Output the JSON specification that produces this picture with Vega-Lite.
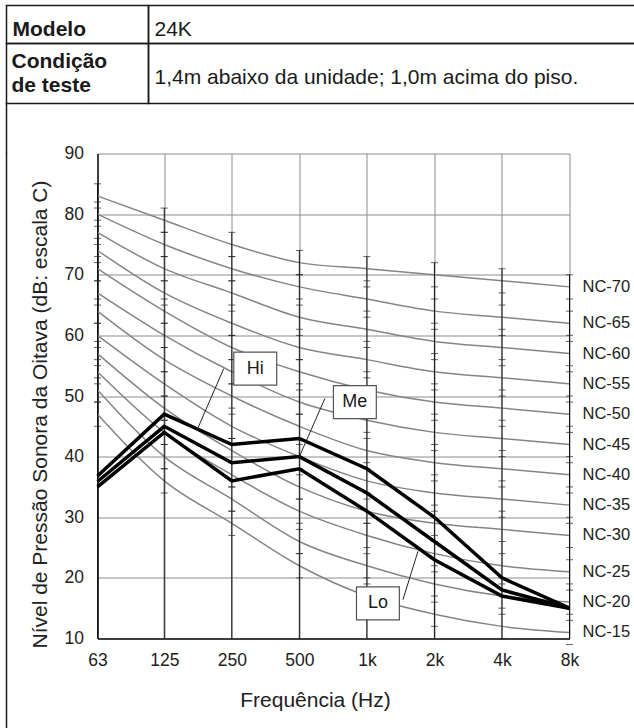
{
  "$schema": "https://vega.github.io/schema/vega-lite/v6.json",
  "background": "white",
  "padding": {"left": 5.5, "top": 4.5, "right": 0, "bottom": 0},
  "config": {"font": "Liberation Sans", "view": {"stroke": null}},
  "datasets": {
    "nc": [
      {"nc":"NC-15","f":63,"db":47},{"nc":"NC-15","f":125,"db":36},{"nc":"NC-15","f":250,"db":29},{"nc":"NC-15","f":500,"db":22},{"nc":"NC-15","f":1000,"db":17},{"nc":"NC-15","f":2000,"db":14},{"nc":"NC-15","f":4000,"db":12},{"nc":"NC-15","f":8000,"db":11},
      {"nc":"NC-20","f":63,"db":51},{"nc":"NC-20","f":125,"db":40},{"nc":"NC-20","f":250,"db":33},{"nc":"NC-20","f":500,"db":26},{"nc":"NC-20","f":1000,"db":22},{"nc":"NC-20","f":2000,"db":19},{"nc":"NC-20","f":4000,"db":17},{"nc":"NC-20","f":8000,"db":16},
      {"nc":"NC-25","f":63,"db":54},{"nc":"NC-25","f":125,"db":44},{"nc":"NC-25","f":250,"db":37},{"nc":"NC-25","f":500,"db":31},{"nc":"NC-25","f":1000,"db":27},{"nc":"NC-25","f":2000,"db":24},{"nc":"NC-25","f":4000,"db":22},{"nc":"NC-25","f":8000,"db":21},
      {"nc":"NC-30","f":63,"db":57},{"nc":"NC-30","f":125,"db":48},{"nc":"NC-30","f":250,"db":41},{"nc":"NC-30","f":500,"db":35},{"nc":"NC-30","f":1000,"db":31},{"nc":"NC-30","f":2000,"db":29},{"nc":"NC-30","f":4000,"db":28},{"nc":"NC-30","f":8000,"db":27},
      {"nc":"NC-35","f":63,"db":60},{"nc":"NC-35","f":125,"db":52},{"nc":"NC-35","f":250,"db":45},{"nc":"NC-35","f":500,"db":40},{"nc":"NC-35","f":1000,"db":36},{"nc":"NC-35","f":2000,"db":34},{"nc":"NC-35","f":4000,"db":33},{"nc":"NC-35","f":8000,"db":32},
      {"nc":"NC-40","f":63,"db":64},{"nc":"NC-40","f":125,"db":56},{"nc":"NC-40","f":250,"db":50},{"nc":"NC-40","f":500,"db":45},{"nc":"NC-40","f":1000,"db":41},{"nc":"NC-40","f":2000,"db":39},{"nc":"NC-40","f":4000,"db":38},{"nc":"NC-40","f":8000,"db":37},
      {"nc":"NC-45","f":63,"db":67},{"nc":"NC-45","f":125,"db":60},{"nc":"NC-45","f":250,"db":54},{"nc":"NC-45","f":500,"db":49},{"nc":"NC-45","f":1000,"db":46},{"nc":"NC-45","f":2000,"db":44},{"nc":"NC-45","f":4000,"db":43},{"nc":"NC-45","f":8000,"db":42},
      {"nc":"NC-50","f":63,"db":71},{"nc":"NC-50","f":125,"db":64},{"nc":"NC-50","f":250,"db":58},{"nc":"NC-50","f":500,"db":54},{"nc":"NC-50","f":1000,"db":51},{"nc":"NC-50","f":2000,"db":49},{"nc":"NC-50","f":4000,"db":48},{"nc":"NC-50","f":8000,"db":47},
      {"nc":"NC-55","f":63,"db":74},{"nc":"NC-55","f":125,"db":67},{"nc":"NC-55","f":250,"db":62},{"nc":"NC-55","f":500,"db":58},{"nc":"NC-55","f":1000,"db":56},{"nc":"NC-55","f":2000,"db":54},{"nc":"NC-55","f":4000,"db":53},{"nc":"NC-55","f":8000,"db":52},
      {"nc":"NC-60","f":63,"db":77},{"nc":"NC-60","f":125,"db":71},{"nc":"NC-60","f":250,"db":67},{"nc":"NC-60","f":500,"db":63},{"nc":"NC-60","f":1000,"db":61},{"nc":"NC-60","f":2000,"db":59},{"nc":"NC-60","f":4000,"db":58},{"nc":"NC-60","f":8000,"db":57},
      {"nc":"NC-65","f":63,"db":80},{"nc":"NC-65","f":125,"db":75},{"nc":"NC-65","f":250,"db":71},{"nc":"NC-65","f":500,"db":68},{"nc":"NC-65","f":1000,"db":66},{"nc":"NC-65","f":2000,"db":64},{"nc":"NC-65","f":4000,"db":63},{"nc":"NC-65","f":8000,"db":62},
      {"nc":"NC-70","f":63,"db":83},{"nc":"NC-70","f":125,"db":79},{"nc":"NC-70","f":250,"db":75},{"nc":"NC-70","f":500,"db":72},{"nc":"NC-70","f":1000,"db":71},{"nc":"NC-70","f":2000,"db":70},{"nc":"NC-70","f":4000,"db":69},{"nc":"NC-70","f":8000,"db":68}
    ],
    "meas": [
      {"mode":"Hi","f":63,"db":36.8},{"mode":"Hi","f":125,"db":47},{"mode":"Hi","f":250,"db":42},{"mode":"Hi","f":500,"db":43},{"mode":"Hi","f":1000,"db":38},{"mode":"Hi","f":2000,"db":30},{"mode":"Hi","f":4000,"db":20},{"mode":"Hi","f":8000,"db":15},
      {"mode":"Me","f":63,"db":35.9},{"mode":"Me","f":125,"db":45},{"mode":"Me","f":250,"db":39},{"mode":"Me","f":500,"db":40},{"mode":"Me","f":1000,"db":34},{"mode":"Me","f":2000,"db":26},{"mode":"Me","f":4000,"db":18},{"mode":"Me","f":8000,"db":15},
      {"mode":"Lo","f":63,"db":35},{"mode":"Lo","f":125,"db":44},{"mode":"Lo","f":250,"db":36},{"mode":"Lo","f":500,"db":38},{"mode":"Lo","f":1000,"db":31},{"mode":"Lo","f":2000,"db":23},{"mode":"Lo","f":4000,"db":17},{"mode":"Lo","f":8000,"db":15}
    ],
    "callouts": [
      {"label":"Hi","f":318,"db":54.5},
      {"label":"Me","f":884,"db":49},
      {"label":"Lo","f":1120,"db":15.8}
    ],
    "leaders": [
      {"label":"Hi","f1":230,"db1":54.5,"f2":176,"db2":44.6},
      {"label":"Me","f1":650,"db1":49.6,"f2":500,"db2":40},
      {"label":"Lo","f1":1448,"db1":16.4,"f2":1690,"db2":24.4}
    ]
  },
  "concat": [
    {
      "concat": [
        {
          "width": 142, "height": 38,
          "view": {"stroke": "#1a1a1a", "strokeWidth": 1.5},
          "data": {"values": [{"t": "Modelo"}]},
          "mark": {"type": "text", "align": "left", "baseline": "middle", "fontSize": 21, "fontWeight": "bold", "color": "#1a1a1a", "dx": 6, "dy": 5},
          "encoding": {"x": {"datum": 0, "scale": {"domain": [0, 1]}, "axis": null}, "text": {"field": "t"}}
        },
        {
          "width": 490, "height": 38,
          "view": {"stroke": "#1a1a1a", "strokeWidth": 1.5},
          "data": {"values": [{"t": "24K"}]},
          "mark": {"type": "text", "align": "left", "baseline": "middle", "fontSize": 21, "color": "#1a1a1a", "dx": 6, "dy": 5},
          "encoding": {"x": {"datum": 0, "scale": {"domain": [0, 1]}, "axis": null}, "text": {"field": "t"}}
        },
        {
          "width": 142, "height": 60,
          "view": {"stroke": "#1a1a1a", "strokeWidth": 1.5},
          "data": {"values": [{"t": "Condição\nde teste"}]},
          "mark": {"type": "text", "align": "left", "baseline": "middle", "fontSize": 21, "fontWeight": "bold", "color": "#1a1a1a", "dx": 5, "dy": -12, "lineBreak": "\n", "lineHeight": 24},
          "encoding": {"x": {"datum": 0, "scale": {"domain": [0, 1]}, "axis": null}, "text": {"field": "t"}}
        },
        {
          "width": 490, "height": 60,
          "view": {"stroke": "#1a1a1a", "strokeWidth": 1.5},
          "data": {"values": [{"t": "1,4m abaixo da unidade; 1,0m acima do piso."}]},
          "mark": {"type": "text", "align": "left", "baseline": "middle", "fontSize": 21, "color": "#1a1a1a", "dx": 6, "dy": 4},
          "encoding": {"x": {"datum": 0, "scale": {"domain": [0, 1]}, "axis": null}, "text": {"field": "t"}}
        },
        {
          "width": 0.01, "height": 49,
          "view": {"stroke": "#1a1a1a", "strokeWidth": 1.5},
          "data": {"values": []},
          "mark": "point"
        }
      ],
      "columns": 2,
      "spacing": 0,
      "bounds": "flush"
    },
    {
      "hconcat": [
        {
          "width": 0.01, "height": 576,
          "view": {"stroke": "#1a1a1a", "strokeWidth": 1.5},
          "data": {"values": []},
          "mark": "point"
        },
        {
          "width": 472, "height": 485,
          "view": {"stroke": null},
          "resolve": {"axis": {"y": "independent"}},
          "layer": [
            {
              "data": {"name": "nc"},
              "mark": {"type": "line", "interpolate": "monotone", "color": "#858585", "strokeWidth": 1.5},
              "encoding": {
                "x": {"field": "f", "type": "quantitative",
                      "scale": {"type": "log", "domain": [63, 8000], "nice": false},
                      "axis": {"values": [63, 125, 250, 500, 1000, 2000, 4000, 8000],
                               "labelExpr": "datum.value >= 1000 ? (datum.value / 1000) + 'k' : '' + datum.value",
                               "ticks": false, "domainColor": "#111", "domainWidth": 1.5,
                               "grid": true, "gridColor": "#8c8c8c", "gridWidth": 1, "gridOpacity": 1,
                               "labelFontSize": 17.5, "labelColor": "#222", "labelPadding": 13,
                               "labelFlush": false, "labelOverlap": false,
                               "title": "Frequência (Hz)", "titleFontSize": 21, "titleFontWeight": "normal", "titleColor": "#222",
                               "titleX": 217.5, "titleY": 68, "titleBaseline": "alphabetic", "titleAlign": "center"}},
                "y": {"field": "db", "type": "quantitative",
                      "scale": {"domain": [10, 90], "nice": false},
                      "axis": {"orient": "left", "values": [10, 20, 30, 40, 50, 60, 70, 80, 90],
                               "ticks": false, "domainColor": "#111", "domainWidth": 1.5,
                               "grid": true, "gridColor": "#8c8c8c", "gridWidth": 1, "gridOpacity": 1,
                               "labelFontSize": 17.5, "labelColor": "#222", "labelPadding": 14, "labelFlush": false,
                               "title": "Nível de Pressão Sonora da Oitava (dB: escala C)", "titleFontSize": 21,
                               "titleFontWeight": "normal", "titleColor": "#222",
                               "titleX": -51, "titleY": 260.5, "titleAngle": -90, "titleBaseline": "alphabetic", "titleAlign": "center"}},
                "detail": {"field": "nc"}
              }
            },
            {
              "data": {"name": "nc"},
              "transform": [{"filter": "datum.nc == 'NC-70'"}],
              "mark": {"type": "rule", "color": "#111", "strokeWidth": 1, "yOffset": -12.1},
              "encoding": {
                "x": {"field": "f", "type": "quantitative"},
                "y": {"field": "db", "type": "quantitative",
                      "axis": {"orient": "left", "offset": 89.5, "labels": false, "ticks": false, "grid": false, "title": null, "domainColor": "transparent", "domainWidth": 1.5}},
                "y2": {"datum": 10}
              }
            },
            {
              "data": {"name": "nc"},
              "mark": {"type": "tick", "orient": "horizontal", "size": 7, "thickness": 1, "color": "#222", "yOffset": -12.1},
              "encoding": {
                "x": {"field": "f", "type": "quantitative"},
                "y": {"field": "db", "type": "quantitative", "axis": null}
              }
            },
            {
              "data": {"name": "nc"},
              "mark": {"type": "tick", "orient": "horizontal", "size": 7, "thickness": 1, "color": "#222", "yOffset": 12.1},
              "encoding": {
                "x": {"field": "f", "type": "quantitative"},
                "y": {"field": "db", "type": "quantitative", "axis": null}
              }
            },
            {
              "data": {"name": "meas"},
              "mark": {"type": "line", "color": "#000", "strokeWidth": 3.5, "strokeJoin": "miter"},
              "encoding": {
                "x": {"field": "f", "type": "quantitative"},
                "y": {"field": "db", "type": "quantitative", "axis": null},
                "detail": {"field": "mode"}
              }
            },
            {
              "data": {"name": "leaders"},
              "mark": {"type": "rule", "color": "#222", "strokeWidth": 1},
              "encoding": {
                "x": {"field": "f1", "type": "quantitative"},
                "y": {"field": "db1", "type": "quantitative", "axis": null},
                "x2": {"field": "f2"},
                "y2": {"field": "db2"}
              }
            },
            {
              "data": {"name": "callouts"},
              "mark": {"type": "point", "shape": "M-1.3,-1L1.3,-1L1.3,1L-1.3,1Z", "size": 1089, "filled": true, "fill": "white", "stroke": "#555", "strokeWidth": 1.2, "opacity": 1},
              "encoding": {
                "x": {"field": "f", "type": "quantitative"},
                "y": {"field": "db", "type": "quantitative", "axis": null}
              }
            },
            {
              "data": {"name": "callouts"},
              "mark": {"type": "text", "fontSize": 18, "color": "#1a1a1a", "baseline": "middle", "align": "center"},
              "encoding": {
                "x": {"field": "f", "type": "quantitative"},
                "y": {"field": "db", "type": "quantitative", "axis": null},
                "text": {"field": "label"}
              }
            },
            {
              "data": {"name": "nc"},
              "transform": [{"filter": "datum.f == 8000"}],
              "mark": {"type": "text", "align": "left", "baseline": "middle", "dx": 13, "fontSize": 16.5, "color": "#222"},
              "encoding": {
                "x": {"field": "f", "type": "quantitative"},
                "y": {"field": "db", "type": "quantitative", "axis": null},
                "text": {"field": "nc"}
              }
            }
          ]
        }
      ],
      "spacing": 0
    }
  ],
  "columns": 1,
  "spacing": -11
}
